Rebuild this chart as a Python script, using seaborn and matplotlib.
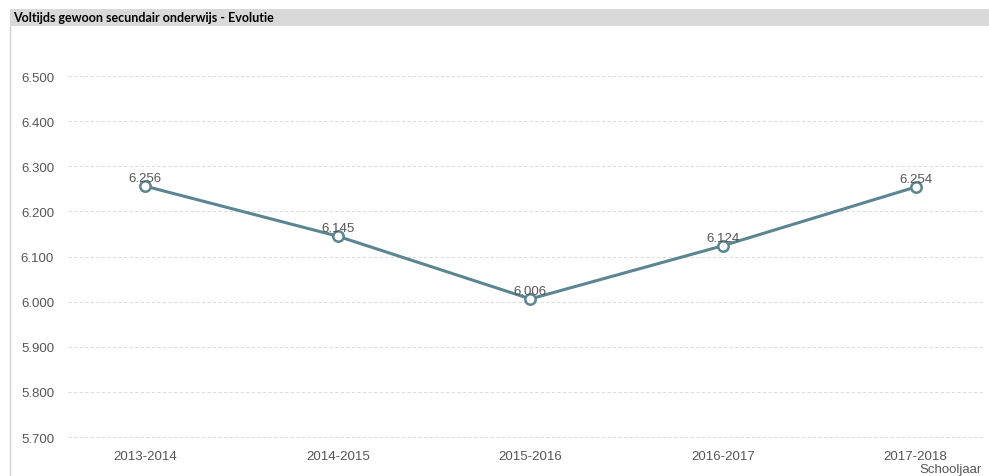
import numpy as np
import pandas as pd
import matplotlib
matplotlib.use("Agg")
import matplotlib.pyplot as plt
import seaborn as sns

# data
schooljaren = ["2013-2014", "2014-2015", "2015-2016", "2016-2017", "2017-2018"]
aantallen = [6.256, 6.145, 6.006, 6.124, 6.254]
y_ticks = [5.7, 5.8, 5.9, 6.0, 6.1, 6.2, 6.3, 6.4, 6.5]

df = pd.DataFrame({"Schooljaar": schooljaren, "Waarde": aantallen})
df["pos"] = np.arange(len(df))

sns.set_style("white")
plt.rcParams['font.family'] = ['Liberation Sans', 'DejaVu Sans']

line_col = "#5b8590"
txt_col = "#555555"

fig = plt.figure(figsize=(9.89, 4.77), dpi=100)
W, H = 989, 477

# title bar
bar = fig.add_axes([10 / W, 1 - 27 / H, 979 / W, 17 / H])
bar.set_facecolor("#d9d9d9")
bar.set_xticks([])
bar.set_yticks([])
for s in bar.spines.values():
    s.set_visible(False)
bar.text(0.003, 0.5, "Voltijds gewoon secundair onderwijs - Evolutie",
         transform=bar.transAxes, va="center", ha="left",
         fontsize=9, fontweight="bold", color="black", family=["Lato", "DejaVu Sans"])

# left border line
fig.add_artist(plt.Line2D([10 / W, 10 / W], [0, 1 - 27 / H], color="#d0d0d0", lw=1))

ax = fig.add_axes([68 / W, 1 - 439 / H, (985 - 68) / W, (439 - 77) / H])
sns.lineplot(data=df, x="pos", y="Waarde", ax=ax, color=line_col, lw=2.2,
             marker="o", markersize=7.5, markerfacecolor="white",
             markeredgecolor=line_col, markeredgewidth=1.8)

for x, y in zip(df["pos"], df["Waarde"]):
    ax.text(x, y + 0.004, f"{y:.3f}", ha="center", va="bottom",
            fontsize=9.5, color=txt_col)

ax.set_xlim(-0.40, len(df) - 1 + 0.36)
ax.set_ylim(5.6978, 6.5)
ax.set_yticks(y_ticks)
ax.set_yticklabels([f"{v:.3f}" for v in y_ticks])
ax.set_xticks(df["pos"])
ax.set_xticklabels(schooljaren)
ax.tick_params(axis="both", colors=txt_col, labelsize=9.5, length=0)
ax.tick_params(axis="y", pad=10)
ax.tick_params(axis="x", pad=9)
ax.yaxis.grid(True, color="#dddddd", linestyle=(0, (3, 2)), lw=0.8)
ax.set_axisbelow(True)
for s in ax.spines.values():
    s.set_visible(False)
ax.set_xlabel("")
ax.set_ylabel("")
fig.text(982 / W, 1 - 470 / H, "Schooljaar", ha="right", va="center",
         fontsize=9.5, color=txt_col)

fig.savefig("out.png", dpi=100, facecolor="white")
